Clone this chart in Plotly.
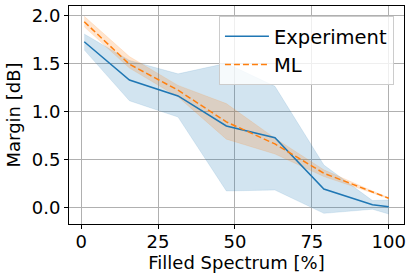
import plotly.graph_objects as go

x_vals = [1, 15.7, 31.5, 47.2, 63, 78.9, 94.7, 100]
exp_mean = [1.725, 1.326, 1.16, 0.847, 0.725, 0.19, 0.027, 0.006]
exp_upper = [1.805, 1.53, 1.39, 1.50, 1.26, 0.44, 0.07, 0.076]
exp_lower = [1.64, 1.11, 0.94, 0.17, 0.18, -0.063, -0.02, -0.07]
ml_mean = [1.933, 1.49, 1.22, 0.89, 0.66, 0.355, 0.16, 0.094]
ml_upper = [1.99, 1.57, 1.27, 1.08, 0.72, 0.39, 0.17, 0.10]
ml_lower = [1.88, 1.45, 1.15, 0.71, 0.555, 0.32, 0.15, 0.088]
x_ticks = [0, 25, 50, 75, 100]
y_ticks = [0.0, 0.5, 1.0, 1.5, 2.0]

BLUE = "#1f77b4"
ORANGE = "#ff7f0e"
FONT = "DejaVu Sans"

fig = go.Figure()
# bands
fig.add_trace(go.Scatter(x=x_vals, y=exp_upper, mode="lines", line=dict(width=0.6, color="rgba(31,119,180,0.2)"),
                         showlegend=False, hoverinfo="skip"))
fig.add_trace(go.Scatter(x=x_vals, y=exp_lower, mode="lines", line=dict(width=0.6, color="rgba(31,119,180,0.2)"),
                         fill="tonexty", fillcolor="rgba(31,119,180,0.2)", showlegend=False, hoverinfo="skip"))
fig.add_trace(go.Scatter(x=x_vals, y=ml_upper, mode="lines", line=dict(width=0.6, color="rgba(255,127,14,0.2)"),
                         showlegend=False, hoverinfo="skip"))
fig.add_trace(go.Scatter(x=x_vals, y=ml_lower, mode="lines", line=dict(width=0.6, color="rgba(255,127,14,0.2)"),
                         fill="tonexty", fillcolor="rgba(255,127,14,0.2)", showlegend=False, hoverinfo="skip"))
# lines
fig.add_trace(go.Scatter(x=x_vals, y=exp_mean, mode="lines", name="Experiment",
                         line=dict(color=BLUE, width=1.5)))
fig.add_trace(go.Scatter(x=x_vals, y=ml_mean, mode="lines", name="ML",
                         line=dict(color=ORANGE, width=1.5, dash="6px,3px")))

axis_common = dict(
    showline=True, mirror=True, linecolor="black", linewidth=1,
    showgrid=True, gridcolor="#b0b0b0", gridwidth=0.8,
    ticks="outside", ticklen=4, tickwidth=1, tickcolor="black",
    tickfont=dict(family=FONT, size=18, color="black"),
    zeroline=False, automargin=False,
)

fig.update_xaxes(range=[-3.95, 104.95], tickvals=x_ticks, ticktext=[str(v) for v in x_ticks],
                 ticklabelstandoff=-3,
                 title=dict(text="Filled Spectrum [%]", font=dict(family=FONT, size=18, color="black"), standoff=0),
                 **axis_common)
fig.update_yaxes(range=[-0.174, 2.097], tickvals=y_ticks, ticktext=[f"{v:.1f}" for v in y_ticks],
                 title=dict(text="Margin [dB]", font=dict(family=FONT, size=18, color="black"), standoff=6),
                 **axis_common)

fig.update_layout(
    width=415, height=280,
    margin=dict(l=69, r=11, t=6, b=56),
    paper_bgcolor="white", plot_bgcolor="white",
    font=dict(family=FONT, size=18, color="black"),
    legend=dict(x=0.97, y=0.954, xanchor="right", yanchor="top", traceorder="normal",
                bgcolor="rgba(255,255,255,0.8)", bordercolor="#cccccc", borderwidth=1,
                font=dict(family=FONT, size=19.5, color="black"), itemwidth=44),
    showlegend=True,
)

fig.write_html("out.html", config={"displayModeBar": False},
               post_script="document.body.style.margin='0';document.body.style.overflow='hidden';")
